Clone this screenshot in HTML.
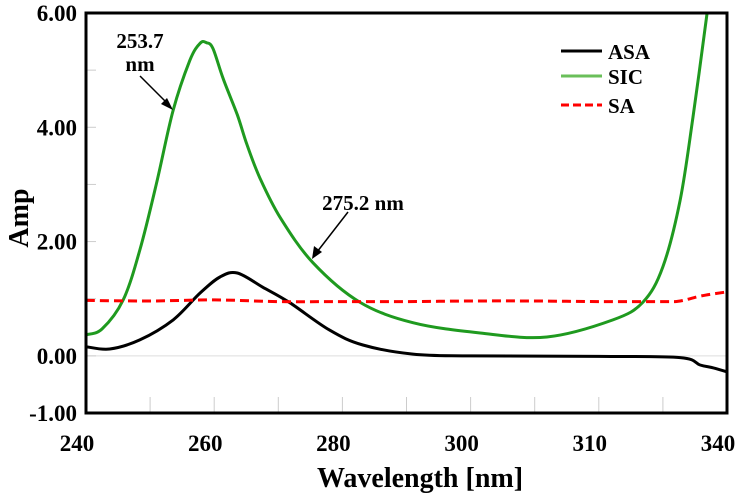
<!DOCTYPE html>
<html><head><meta charset="utf-8"><style>
body{margin:0;background:#fff;}
svg text{font-family:"Liberation Serif",serif;font-weight:bold;fill:#000;}
</style></head><body>
<svg id="chart" width="749" height="498" viewBox="0 0 749 498">
<g id="grid"></g>
<g id="series"></g>
<rect x="86" y="13" width="641" height="400" fill="none" stroke="#000" stroke-width="3"/>
<g id="axes"></g>
<text x="420" y="487" font-size="28" text-anchor="middle">Wavelength [nm]</text>
<text transform="translate(28,218) rotate(-90)" font-size="28" text-anchor="middle">Amp</text>
<g>
<text x="140" y="48" font-size="21" text-anchor="middle">253.7</text>
<text x="140" y="71" font-size="21" text-anchor="middle">nm</text>
<line x1="140" y1="76" x2="168" y2="104" stroke="#000" stroke-width="1.5"/>
<polygon points="173,110 161,104 167,98" fill="#000"/>
</g>
<g>
<text x="363" y="210" font-size="21" text-anchor="middle">275.2 nm</text>
<line x1="348" y1="212" x2="317" y2="252" stroke="#000" stroke-width="1.5"/>
<polygon points="312,259 314,246 322,252" fill="#000"/>
</g>
<g>
<line x1="561" y1="51" x2="602" y2="51" stroke="#000" stroke-width="3"/>
<text x="608" y="59" font-size="21">ASA</text>
<line x1="561" y1="76" x2="602" y2="76" stroke="#6abf5a" stroke-width="3"/>
<text x="608" y="84" font-size="21">SIC</text>
<line x1="561" y1="105" x2="602" y2="105" stroke="#f00" stroke-width="3" stroke-dasharray="8,4"/>
<text x="608" y="113" font-size="21">SA</text>
</g>
</svg>
<script>
const xTickValues=[240,260,280,300,320,340];
const xTickLabels=["240","260","280","300","310","340"];
const yTickValues=[6,4,2,0,-1];
const yTickLabels=["6.00","4.00","2.00","0.00","-1.00"];
const sicX=[240,242.5,245.8,248.4,251,253.6,256.2,257.8,258.8,259.8,261.4,263.6,265.1,267.1,270.3,275.4,282.7,291,301.5,311.9,322.2,326.9,330,332.7,334.7,336.9];
const sicY=[0.37,0.47,0.98,1.85,3.02,4.3,5.17,5.47,5.48,5.38,4.85,4.22,3.7,3.12,2.42,1.63,0.94,0.58,0.4,0.33,0.63,0.94,1.56,2.73,4.18,6.0];
const asaX=[240,243.7,248.4,253.6,257.8,260.9,263.6,267.6,271.8,278,283.2,291,300,320,332.7,335.8,337.9,340];
const asaY=[0.16,0.12,0.28,0.63,1.1,1.38,1.45,1.2,0.93,0.45,0.19,0.03,0.0,-0.01,-0.03,-0.16,-0.21,-0.28];
const saX=[240,250,260,270,280,290,300,310,320,330,332.7,336,340];
const saY=[0.97,0.96,0.98,0.95,0.95,0.95,0.96,0.96,0.95,0.95,0.96,1.05,1.12];
const X0=240,X1=340,PX0=86,PX1=727,Y0=-1,Y1=6,PY0=413,PY1=13;
function sx(v){return PX0+(v-X0)/(X1-X0)*(PX1-PX0);}
function sy(v){return PY0-(v-Y0)/(Y1-Y0)*(PY0-PY1);}
const NS="http://www.w3.org/2000/svg";
function mk(t,a,p){const e=document.createElementNS(NS,t);for(const k in a)e.setAttribute(k,a[k]);p.appendChild(e);return e;}
const grid=document.getElementById('grid'),axes=document.getElementById('axes'),ser=document.getElementById('series');
const zl=mk('line',{x1:PX0,x2:PX1,y1:sy(0),y2:sy(0),stroke:'#ddd','stroke-width':1},grid);


for(let v=-1;v<=6;v++){const t=mk('line',{x1:PX0,x2:PX0+10,y1:sy(v),y2:sy(v),stroke:'#ccc','stroke-width':1},grid);

}
for(let v=250;v<340;v+=10){const t=mk('line',{x1:sx(v),x2:sx(v),y1:PY0,y2:PY0-16,stroke:'#ccc','stroke-width':1},grid);

}
xTickValues.forEach((v,i)=>{const t=mk('text',{x:sx(v)-9,y:451,'font-size':23,'text-anchor':'middle'},axes);t.textContent=xTickLabels[i];

});
yTickValues.forEach((v,i)=>{const t=mk('text',{x:77,y:sy(v)+8,'font-size':23,'text-anchor':'end'},axes);t.textContent=yTickLabels[i];

});
function path(xs,ys){const p=xs.map((x,i)=>[sx(x),sy(ys[i])]);let d='M'+p[0][0].toFixed(1)+','+p[0][1].toFixed(1);
for(let i=0;i<p.length-1;i++){const a=p[i-1]||p[i],b=p[i],c=p[i+1],e=p[i+2]||c;
d+='C'+(b[0]+(c[0]-a[0])/6).toFixed(1)+','+(b[1]+(c[1]-a[1])/6).toFixed(1)+' '+(c[0]-(e[0]-b[0])/6).toFixed(1)+','+(c[1]-(e[1]-b[1])/6).toFixed(1)+' '+c[0].toFixed(1)+','+c[1].toFixed(1);}
return d;}
const pa=mk('path',{d:path(asaX,asaY),fill:'none',stroke:'#000','stroke-width':3,'stroke-linejoin':'round'},ser);


const pg=mk('path',{d:path(sicX,sicY),fill:'none',stroke:'#1f9a1f','stroke-width':3,'stroke-linejoin':'round'},ser);


const pr=mk('path',{d:path(saX,saY),fill:'none',stroke:'#f00','stroke-width':3,'stroke-dasharray':'9,5'},ser);


</script>
</body></html>
